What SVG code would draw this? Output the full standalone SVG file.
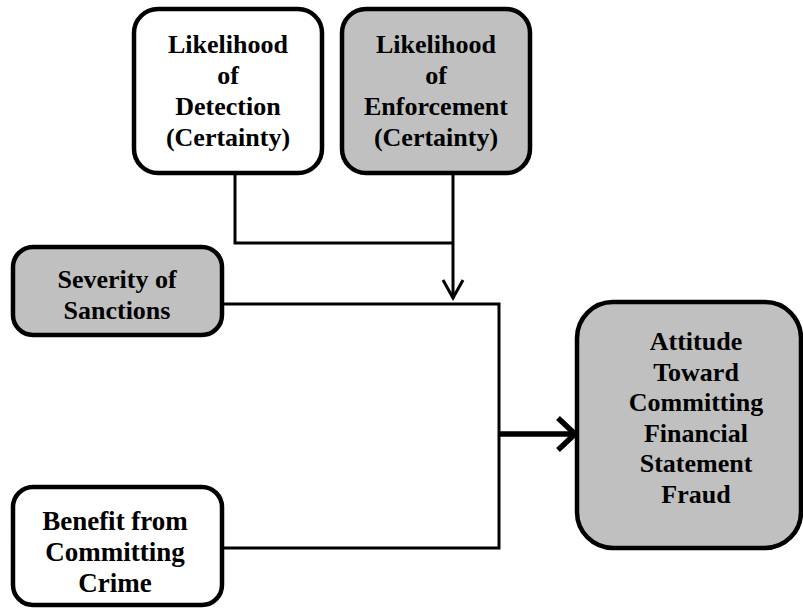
<svg xmlns="http://www.w3.org/2000/svg" width="803" height="608" viewBox="0 0 803 608">
<style>
.box{stroke:#000;stroke-width:4.5}
.w{fill:#fff}
.g{fill:#c0c0c0}
text{font-family:"Liberation Serif","Times New Roman",serif;font-weight:bold;font-size:26px;fill:#000;text-anchor:middle}
.big{font-size:27px}
.ln{fill:none;stroke:#000;stroke-width:3}
.thick{fill:none;stroke:#000;stroke-width:5.5}
</style>
<rect width="803" height="608" fill="#fff"/>
<g id="connectors">
<polyline class="ln" points="235,173 235,243 453,243"/>
<line class="ln" x1="453" y1="173" x2="453" y2="298"/>
<polyline class="ln" points="443,280 453,298 463,280"/>
<polyline class="ln" points="222,304 499,304 499,548 222,548"/>
<line class="thick" x1="499" y1="434" x2="574" y2="434"/>
<polyline class="thick" points="558,418 575,434 558,450"/>
</g>
<g id="detection">
<rect class="box w" x="134" y="9" width="188" height="164" rx="24"/>
<text x="228" y="53">Likelihood</text>
<text x="228" y="84">of</text>
<text x="228" y="115">Detection</text>
<text x="228" y="146">(Certainty)</text>
</g>
<g id="enforcement">
<rect class="box g" x="342" y="9" width="188" height="164" rx="24"/>
<text x="436" y="53">Likelihood</text>
<text x="436" y="84">of</text>
<text x="436" y="115">Enforcement</text>
<text x="436" y="146">(Certainty)</text>
</g>
<g id="severity">
<rect class="box g" x="13" y="247" width="209" height="88" rx="20"/>
<text x="117" y="288">Severity of</text>
<text x="117" y="319">Sanctions</text>
</g>
<g id="benefit">
<rect class="box w" x="13" y="487" width="209" height="118" rx="20"/>
<text class="big" x="115" y="530">Benefit from</text>
<text class="big" x="115" y="561">Committing</text>
<text class="big" x="115" y="592">Crime</text>
</g>
<g id="attitude">
<rect class="box g" x="577" y="302" width="224" height="246" rx="36"/>
<text x="696" y="350">Attitude</text>
<text x="696" y="380.6">Toward</text>
<text x="696" y="411.2">Committing</text>
<text x="696" y="441.8">Financial</text>
<text x="696" y="472.4">Statement</text>
<text x="696" y="503">Fraud</text>
</g>
</svg>
